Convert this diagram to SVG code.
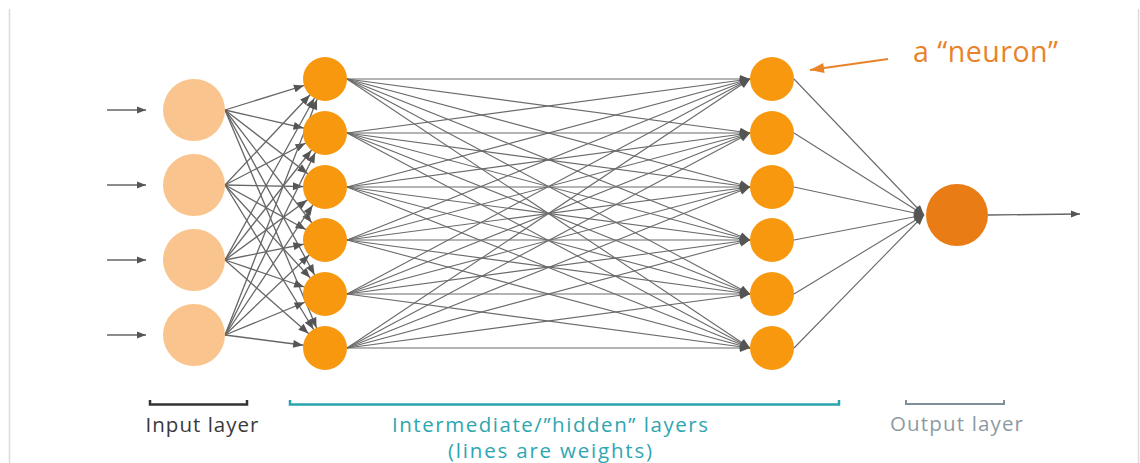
<svg xmlns="http://www.w3.org/2000/svg" width="1140" height="463" viewBox="0 0 1140 463">
<style>
.frame{stroke:#dcdcdc;stroke-width:1.5;fill:none}
.wi{stroke:#666;stroke-width:1.3;fill:none;marker-end:url(#ahC)}
.wh{stroke:#6a6a6a;stroke-width:1.1;fill:none;marker-end:url(#ah)}
.wo{stroke:#6a6a6a;stroke-width:1.1;fill:none;marker-end:url(#ah)}
.io{stroke:#666;stroke-width:1.4;fill:none;marker-end:url(#ahS)}
.inp{fill:#F9C48D}
.hid{fill:#F8980F}
.out{fill:#EA7C15}
.lbl{font-family:"Open Sans","Liberation Sans",sans-serif;font-size:20.5px;text-anchor:middle}
</style>
<defs>
<marker id="ah" markerUnits="userSpaceOnUse" markerWidth="10" markerHeight="8" refX="10" refY="4" orient="auto" overflow="visible"><path d="M0,0 L10,4 L0,8 z" fill="#555"/></marker>
<marker id="ahC" markerUnits="userSpaceOnUse" markerWidth="10" markerHeight="8" refX="32" refY="4" orient="auto" overflow="visible"><path d="M0,0 L10,4 L0,8 z" fill="#555"/></marker>
<marker id="ahS" markerUnits="userSpaceOnUse" markerWidth="9" markerHeight="7" refX="9" refY="3.5" orient="auto" overflow="visible"><path d="M0,0 L9,3.5 L0,7 z" fill="#555"/></marker>
<marker id="ahO" markerUnits="userSpaceOnUse" markerWidth="14" markerHeight="10" refX="14" refY="5" orient="auto" overflow="visible"><path d="M0,0 L14,5 L0,10 z" fill="#E8832A"/></marker>
</defs>
<rect width="1140" height="463" fill="#fff"/>
<line class="frame" x1="9.5" y1="9" x2="9.5" y2="463"/>
<line class="frame" x1="1138.5" y1="9" x2="1138.5" y2="463"/>

<g id="connectors">
<line class="io" x1="107" y1="110" x2="146" y2="110"/>
<line class="io" x1="107" y1="185" x2="146" y2="185"/>
<line class="io" x1="107" y1="260" x2="146" y2="260"/>
<line class="io" x1="107" y1="335" x2="146" y2="335"/>

<line class="wi" x1="225" y1="110" x2="325" y2="79"/>
<line class="wi" x1="225" y1="110" x2="325" y2="133"/>
<line class="wi" x1="225" y1="110" x2="325" y2="187"/>
<line class="wi" x1="225" y1="110" x2="325" y2="240"/>
<line class="wi" x1="225" y1="110" x2="325" y2="294"/>
<line class="wi" x1="225" y1="110" x2="325" y2="348"/>
<line class="wi" x1="225" y1="185" x2="325" y2="79"/>
<line class="wi" x1="225" y1="185" x2="325" y2="133"/>
<line class="wi" x1="225" y1="185" x2="325" y2="187"/>
<line class="wi" x1="225" y1="185" x2="325" y2="240"/>
<line class="wi" x1="225" y1="185" x2="325" y2="294"/>
<line class="wi" x1="225" y1="185" x2="325" y2="348"/>
<line class="wi" x1="225" y1="260" x2="325" y2="79"/>
<line class="wi" x1="225" y1="260" x2="325" y2="133"/>
<line class="wi" x1="225" y1="260" x2="325" y2="187"/>
<line class="wi" x1="225" y1="260" x2="325" y2="240"/>
<line class="wi" x1="225" y1="260" x2="325" y2="294"/>
<line class="wi" x1="225" y1="260" x2="325" y2="348"/>
<line class="wi" x1="225" y1="335" x2="325" y2="79"/>
<line class="wi" x1="225" y1="335" x2="325" y2="133"/>
<line class="wi" x1="225" y1="335" x2="325" y2="187"/>
<line class="wi" x1="225" y1="335" x2="325" y2="240"/>
<line class="wi" x1="225" y1="335" x2="325" y2="294"/>
<line class="wi" x1="225" y1="335" x2="325" y2="348"/>

<line class="wh" x1="347" y1="79" x2="750" y2="79"/>
<line class="wh" x1="347" y1="79" x2="750" y2="133"/>
<line class="wh" x1="347" y1="79" x2="750" y2="187"/>
<line class="wh" x1="347" y1="79" x2="750" y2="240"/>
<line class="wh" x1="347" y1="79" x2="750" y2="294"/>
<line class="wh" x1="347" y1="79" x2="750" y2="348"/>
<line class="wh" x1="347" y1="133" x2="750" y2="79"/>
<line class="wh" x1="347" y1="133" x2="750" y2="133"/>
<line class="wh" x1="347" y1="133" x2="750" y2="187"/>
<line class="wh" x1="347" y1="133" x2="750" y2="240"/>
<line class="wh" x1="347" y1="133" x2="750" y2="294"/>
<line class="wh" x1="347" y1="133" x2="750" y2="348"/>
<line class="wh" x1="347" y1="187" x2="750" y2="79"/>
<line class="wh" x1="347" y1="187" x2="750" y2="133"/>
<line class="wh" x1="347" y1="187" x2="750" y2="187"/>
<line class="wh" x1="347" y1="187" x2="750" y2="240"/>
<line class="wh" x1="347" y1="187" x2="750" y2="294"/>
<line class="wh" x1="347" y1="187" x2="750" y2="348"/>
<line class="wh" x1="347" y1="240" x2="750" y2="79"/>
<line class="wh" x1="347" y1="240" x2="750" y2="133"/>
<line class="wh" x1="347" y1="240" x2="750" y2="187"/>
<line class="wh" x1="347" y1="240" x2="750" y2="240"/>
<line class="wh" x1="347" y1="240" x2="750" y2="294"/>
<line class="wh" x1="347" y1="240" x2="750" y2="348"/>
<line class="wh" x1="347" y1="294" x2="750" y2="79"/>
<line class="wh" x1="347" y1="294" x2="750" y2="133"/>
<line class="wh" x1="347" y1="294" x2="750" y2="187"/>
<line class="wh" x1="347" y1="294" x2="750" y2="240"/>
<line class="wh" x1="347" y1="294" x2="750" y2="294"/>
<line class="wh" x1="347" y1="294" x2="750" y2="348"/>
<line class="wh" x1="347" y1="348" x2="750" y2="79"/>
<line class="wh" x1="347" y1="348" x2="750" y2="133"/>
<line class="wh" x1="347" y1="348" x2="750" y2="187"/>
<line class="wh" x1="347" y1="348" x2="750" y2="240"/>
<line class="wh" x1="347" y1="348" x2="750" y2="294"/>
<line class="wh" x1="347" y1="348" x2="750" y2="348"/>

<line class="wo" x1="794" y1="79" x2="924" y2="215"/>
<line class="wo" x1="794" y1="133" x2="924" y2="215"/>
<line class="wo" x1="794" y1="187" x2="924" y2="215"/>
<line class="wo" x1="794" y1="240" x2="924" y2="215"/>
<line class="wo" x1="794" y1="294" x2="924" y2="215"/>
<line class="wo" x1="794" y1="348" x2="924" y2="215"/>

<line class="io" x1="988" y1="215" x2="1080" y2="214"/>
<line x1="888" y1="59" x2="810" y2="70" stroke="#E8832A" stroke-width="2" marker-end="url(#ahO)"/>
</g>

<g id="input-1"><circle class="inp" cx="194" cy="110" r="31"/></g>
<g id="input-2"><circle class="inp" cx="194" cy="185" r="31"/></g>
<g id="input-3"><circle class="inp" cx="194" cy="260" r="31"/></g>
<g id="input-4"><circle class="inp" cx="194" cy="335" r="31"/></g>

<g id="hidden-a1"><circle class="hid" cx="325" cy="79" r="22"/></g>
<g id="hidden-a2"><circle class="hid" cx="325" cy="133" r="22"/></g>
<g id="hidden-a3"><circle class="hid" cx="325" cy="187" r="22"/></g>
<g id="hidden-a4"><circle class="hid" cx="325" cy="240" r="22"/></g>
<g id="hidden-a5"><circle class="hid" cx="325" cy="294" r="22"/></g>
<g id="hidden-a6"><circle class="hid" cx="325" cy="348" r="22"/></g>

<g id="hidden-b1"><circle class="hid" cx="772" cy="79" r="22"/></g>
<g id="hidden-b2"><circle class="hid" cx="772" cy="133" r="22"/></g>
<g id="hidden-b3"><circle class="hid" cx="772" cy="187" r="22"/></g>
<g id="hidden-b4"><circle class="hid" cx="772" cy="240" r="22"/></g>
<g id="hidden-b5"><circle class="hid" cx="772" cy="294" r="22"/></g>
<g id="hidden-b6"><circle class="hid" cx="772" cy="348" r="22"/></g>

<g id="output"><circle class="out" cx="957" cy="215" r="31"/></g>

<g id="neuron-label">
<text x="913" y="62" font-family="'Open Sans','Liberation Sans',sans-serif" font-size="28.5" fill="#E8832A" textLength="145" lengthAdjust="spacing">a “neuron”</text>
</g>

<g id="input-label">
<path d="M150,400 V404.5 H247 V400" fill="none" stroke="#333" stroke-width="2.5"/>
<text class="lbl" x="202" y="432" fill="#3a3a3a" textLength="113" lengthAdjust="spacing">Input layer</text>
</g>
<g id="hidden-label">
<path d="M290,400 V404.5 H839 V400" fill="none" stroke="#2BA3AF" stroke-width="2.5"/>
<text class="lbl" x="550" y="432" fill="#2EA6B1" textLength="316" lengthAdjust="spacing">Intermediate/”hidden” layers</text>
<text class="lbl" x="550" y="458" fill="#2EA6B1" textLength="204" lengthAdjust="spacing">(lines are weights)</text>
</g>
<g id="output-label">
<path d="M906,400 V404 H1004 V400" fill="none" stroke="#7F9098" stroke-width="2"/>
<text class="lbl" x="956.5" y="431" fill="#8C9BA2" textLength="133" lengthAdjust="spacing">Output layer</text>
</g>
</svg>
